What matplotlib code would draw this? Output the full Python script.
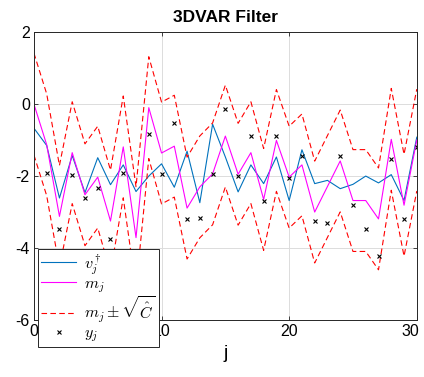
import numpy as np
import matplotlib
matplotlib.use("Agg")
import matplotlib.pyplot as plt
from matplotlib.transforms import ScaledTranslation

plt.rcParams['font.family'] = ['Liberation Sans', 'DejaVu Sans']
plt.rcParams['mathtext.fontset'] = 'cm'
plt.rcParams['axes.unicode_minus'] = False

# time index
j = np.arange(0, 31)

# truth v_j^dagger
v_true = [-0.67, -1.15, -2.61, -1.43, -2.46, -1.49, -2.24, -1.69, -2.43, -2.0,
          -1.66, -2.31, -1.31, -2.74, -0.56, -1.47, -2.44, -1.69, -2.21, -1.47,
          -2.68, -1.27, -2.21, -2.12, -2.35, -2.23, -2.0, -2.19, -1.96, -2.68,
          -0.92]

# filter mean m_j
m_est = [0.0, -1.13, -3.12, -1.35, -2.52, -2.03, -3.25, -1.19, -3.71, -0.1,
         -1.36, -1.17, -2.89, -2.3, -1.94, -0.89, -1.95, -1.35, -2.65, -1.01,
         -2.03, -1.69, -3.0, -2.29, -1.58, -2.68, -2.68, -3.19, -0.98, -2.81,
         -1.0]

# fixed 3DVAR covariance
c_hat = 2.0

# observations y_j (j = 1..30)
j_obs = np.arange(1, 31)
y_obs = [-1.91, -3.46, -1.96, -2.6, -2.32, -3.76, -1.92, -4.5, -0.82, -1.94,
         -0.52, -3.19, -3.16, -1.94, -0.15, -2.01, -0.89, -2.69, -0.89, -2.06,
         -1.43, -3.26, -3.30, -1.43, -2.79, -3.48, -4.22, -1.54, -3.19, -1.18]

m_arr = np.array(m_est)
sd = np.sqrt(c_hat)

fig = plt.figure(figsize=(4.24, 3.77), dpi=100)
ax = fig.add_axes([0.080, 0.151, 0.903, 0.764])

ax.plot(j, v_true, color='#0072BD', lw=0.8, label=r'$v_j^\dagger$')
ax.plot(j, m_est, color='#FF00FF', lw=0.8, label=r'$m_j$')
ax.plot(j, m_arr + sd, 'r--', lw=0.8, dashes=(5, 3), label=r'$m_j \pm \sqrt{\hat{C}}$')
ax.plot(j, m_arr - sd, 'r--', lw=0.8, dashes=(5, 3))
ax.plot(j_obs, y_obs, 'kx', ms=3.5, mew=0.8, label=r'$y_j$')

ax.set_xlim(0, 30)
ax.set_ylim(-6, 2)
ax.set_xticks([0, 10, 20, 30])
ax.set_yticks([-6, -4, -2, 0, 2])
ax.tick_params(direction='in', top=True, right=True, labelsize=11.5, length=3,
               width=0.6, color='#262626', pad=3)
for s in ax.spines.values():
    s.set_color('#262626')
    s.set_linewidth(0.7)
ax.grid(True, color='#dcdcdc', lw=0.7)
ax.set_axisbelow(True)

# keep the last x tick label inside the figure
last = ax.get_xticklabels()[-1]
last.set_transform(last.get_transform() + ScaledTranslation(-5 / 72, 0, fig.dpi_scale_trans))

ax.set_title('3DVAR Filter', fontsize=12.5, fontweight='bold', pad=7)
ax.set_xlabel('j', fontsize=14, labelpad=4)

leg = ax.legend(loc='lower left', bbox_to_anchor=(0.0105, -0.094), borderaxespad=0,
                fontsize=11.5, framealpha=1, fancybox=False, edgecolor='#262626',
                handlelength=2.2, handletextpad=0.5, labelspacing=0.0,
                borderpad=0.2)
leg.get_frame().set_linewidth(0.7)
leg.set_zorder(10)

fig.savefig('out.png', dpi=100)
